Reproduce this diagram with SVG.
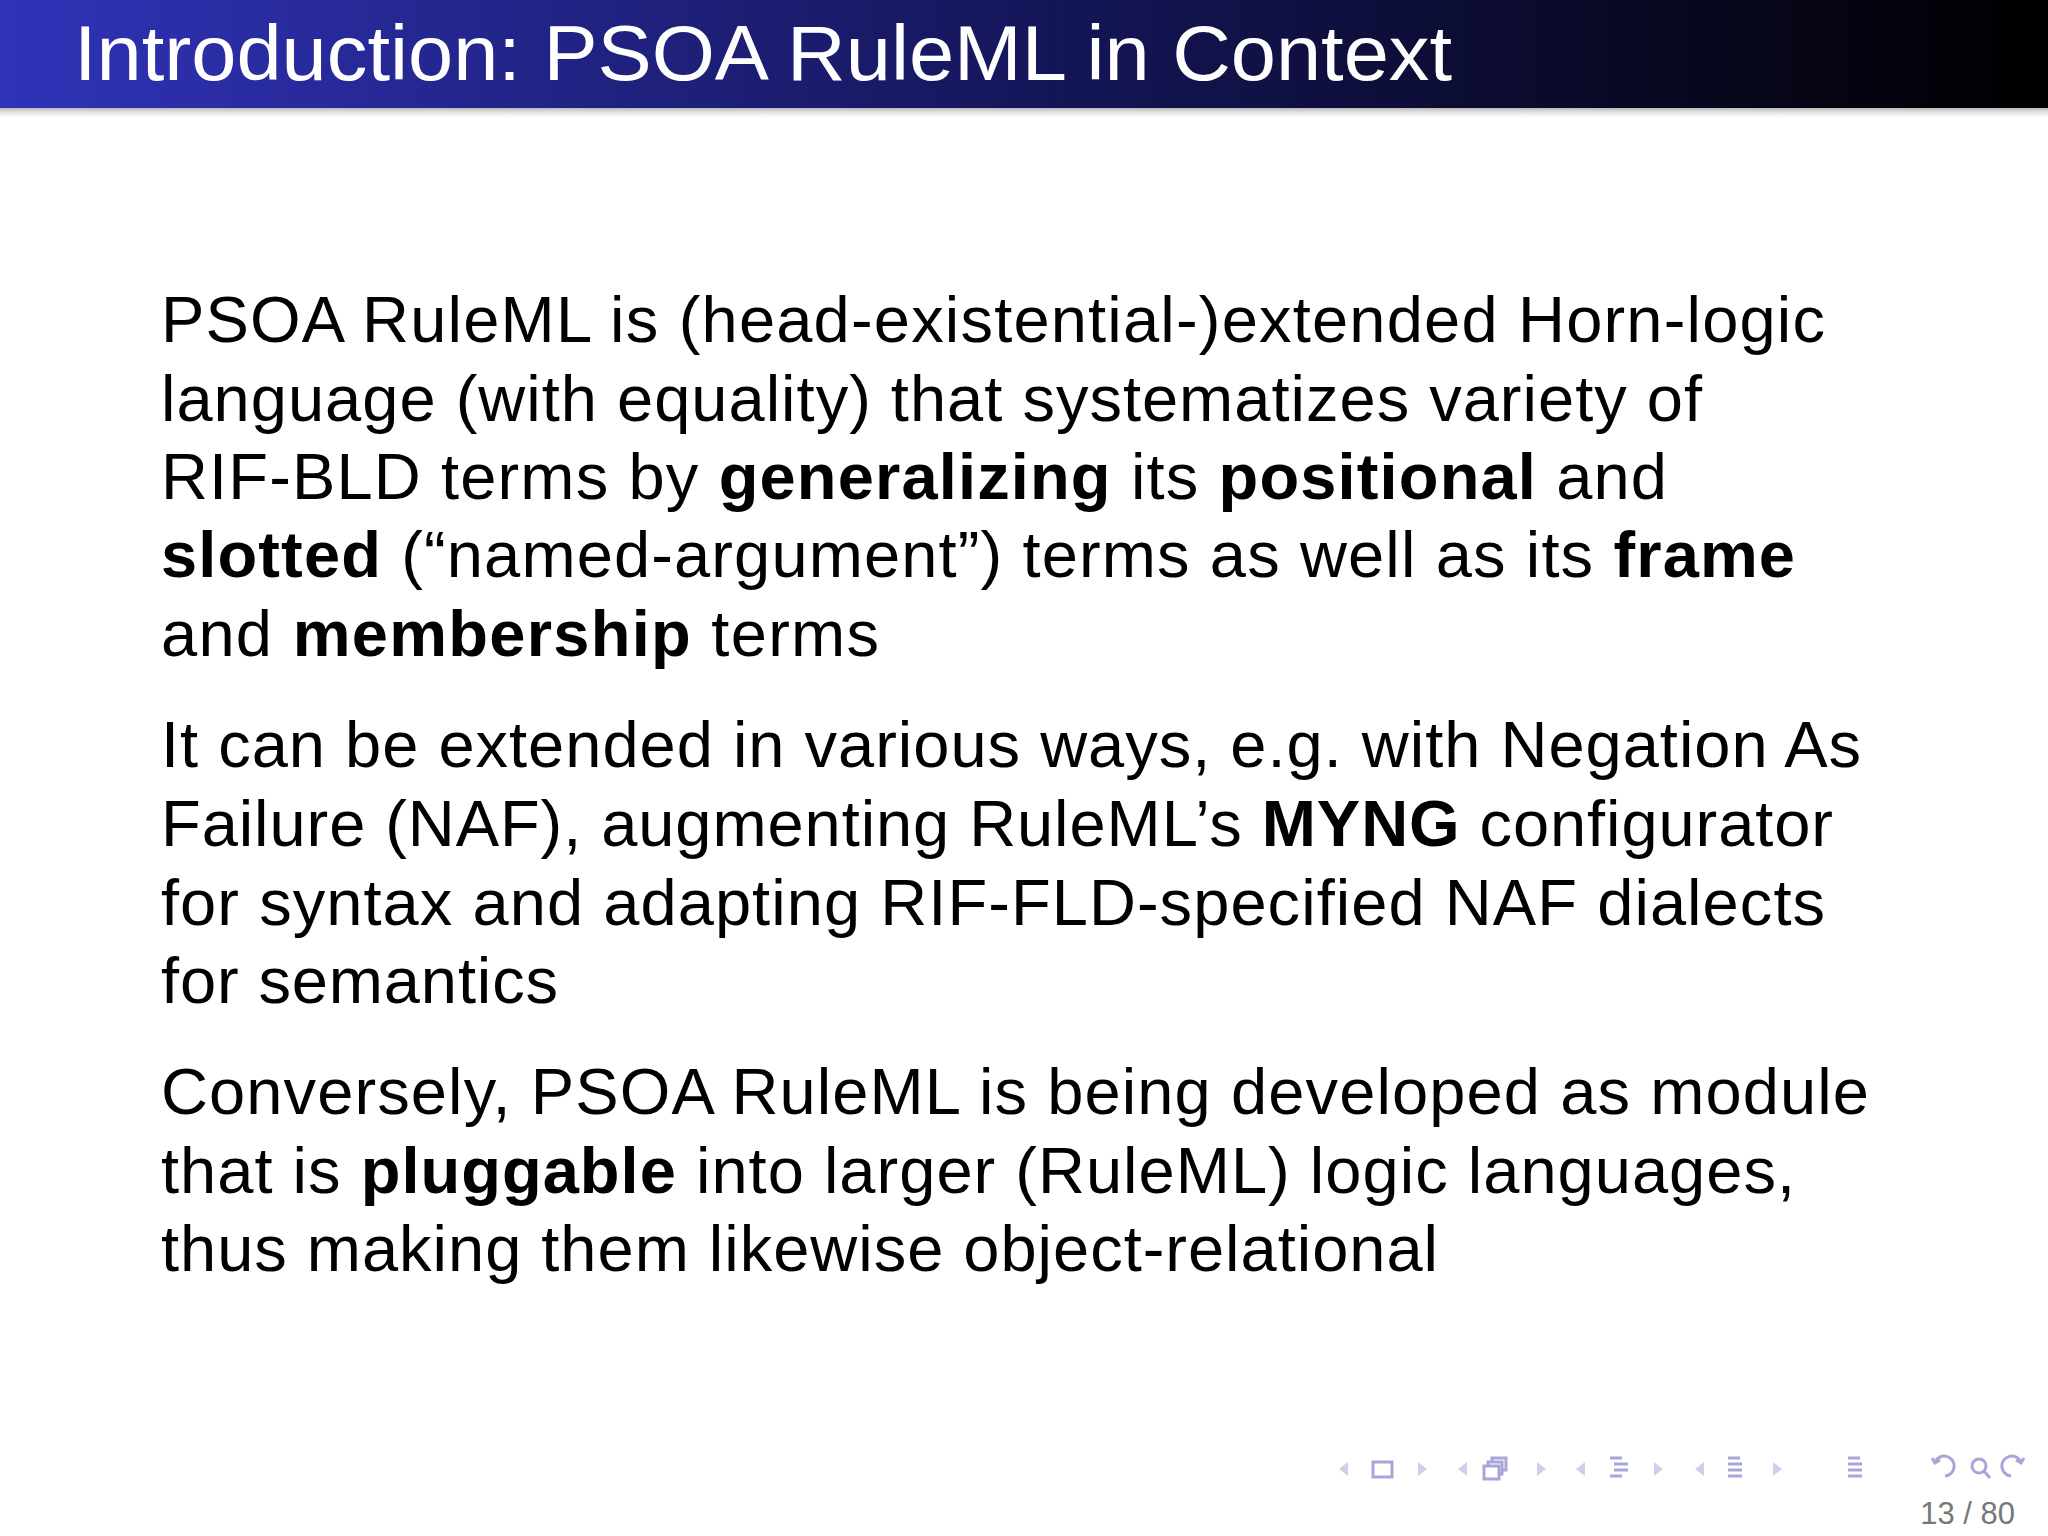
<svg xmlns="http://www.w3.org/2000/svg" width="2048" height="1536" viewBox="0 0 2048 1536">
<defs>
<linearGradient id="tb" x1="0" y1="0" x2="1" y2="0"><stop offset="0" stop-color="#3033b8"/><stop offset="0.5" stop-color="#15165a"/><stop offset="1" stop-color="#000"/></linearGradient>
<linearGradient id="sh" x1="0" y1="0" x2="0" y2="1"><stop offset="0" stop-color="#888" stop-opacity="0.6"/><stop offset="1" stop-color="#fff" stop-opacity="0"/></linearGradient>
<style>
.b{font-family:"Liberation Sans",Arial,sans-serif;font-size:65px;fill:#000}
.bd{font-weight:bold}
.nav{fill:none;stroke:#a8a5d8;stroke-width:3}
.navf{fill:#d0cfe8}
</style>
</defs>
<rect width="2048" height="1536" fill="#fff"/>
<rect x="0" y="0" width="2048" height="108" fill="url(#tb)"/>
<rect x="0" y="108" width="2048" height="12" fill="url(#sh)"/>
<text x="74" y="80" font-family="'Liberation Sans',Arial,sans-serif" font-size="78" fill="#fff" textLength="1378" lengthAdjust="spacingAndGlyphs">Introduction: PSOA RuleML in Context</text>
<g id="body" class="b">
<text x="161" y="342" class="b" textLength="1664">PSOA RuleML is (head-existential-)extended Horn-logic</text>
<text x="161" y="421" class="b" textLength="1541">language (with equality) that systematizes variety of</text>
<text x="161" y="499" class="b" textLength="1506">RIF-BLD terms by <tspan class="bd">generalizing</tspan> its <tspan class="bd">positional</tspan> and</text>
<text x="161" y="577" class="b" textLength="1634"><tspan class="bd">slotted</tspan> (“named-argument”) terms as well as its <tspan class="bd">frame</tspan></text>
<text x="161" y="656" class="b" textLength="718">and <tspan class="bd">membership</tspan> terms</text>
<text x="161" y="767" class="b" textLength="1700">It can be extended in various ways, e.g. with Negation As</text>
<text x="161" y="846" class="b" textLength="1672">Failure (NAF), augmenting RuleML’s <tspan class="bd">MYNG</tspan> configurator</text>
<text x="161" y="925" class="b" textLength="1664">for syntax and adapting RIF-FLD-specified NAF dialects</text>
<text x="161" y="1003" class="b" textLength="397">for semantics</text>
<text x="161" y="1114" class="b" textLength="1708">Conversely, PSOA RuleML is being developed as module</text>
<text x="161" y="1193" class="b" textLength="1634">that is <tspan class="bd">pluggable</tspan> into larger (RuleML) logic languages,</text>
<text x="161" y="1271" class="b" textLength="1277">thus making them likewise object-relational</text>
</g>
<g id="navigation" transform="translate(0,8)">
<path class="navf" d="M1348 1468 l-9 -7 l9 -7z M1418 1468 l9 -7 l-9 -7z M1467 1468 l-9 -7 l9 -7z M1537 1468 l9 -7 l-9 -7z M1585 1468 l-9 -7 l9 -7z M1654 1468 l9 -7 l-9 -7z M1704 1468 l-9 -7 l9 -7z M1773 1468 l9 -7 l-9 -7z"/>
<rect class="nav" x="1373" y="1454" width="19" height="15"/>
<rect class="nav" x="1484" y="1458" width="15" height="13"/>
<path class="nav" d="M1488 1458 v-4 h14 v12 h-3 M1492 1454 v-4 h14 v12 h-3"/>
<path class="nav" d="M1610 1450 h12 M1614 1456 h14 M1614 1462 h14 M1610 1468 h12 M1728 1450 h12 M1728 1456 h14 M1728 1462 h14 M1728 1468 h14 M1848 1450 h12 M1848 1456 h14 M1848 1462 h14 M1848 1468 h14" stroke-width="4"/>
<path class="nav" d="M1945 1468 a10 10 0 1 0 -10 -14 M1932 1450 l3 5 l5 -3"/>
<circle class="nav" cx="1979" cy="1458" r="7"/>
<path class="nav" d="M1984 1463 l6 7"/>
<path class="nav" d="M2011 1468 a10 10 0 1 1 10 -14 M2024 1450 l-3 5 l-5 -3"/>
</g>
<text x="2015" y="1524" text-anchor="end" font-family="'Liberation Sans',Arial,sans-serif" font-size="31" fill="#777">13 / 80</text>
</svg>
